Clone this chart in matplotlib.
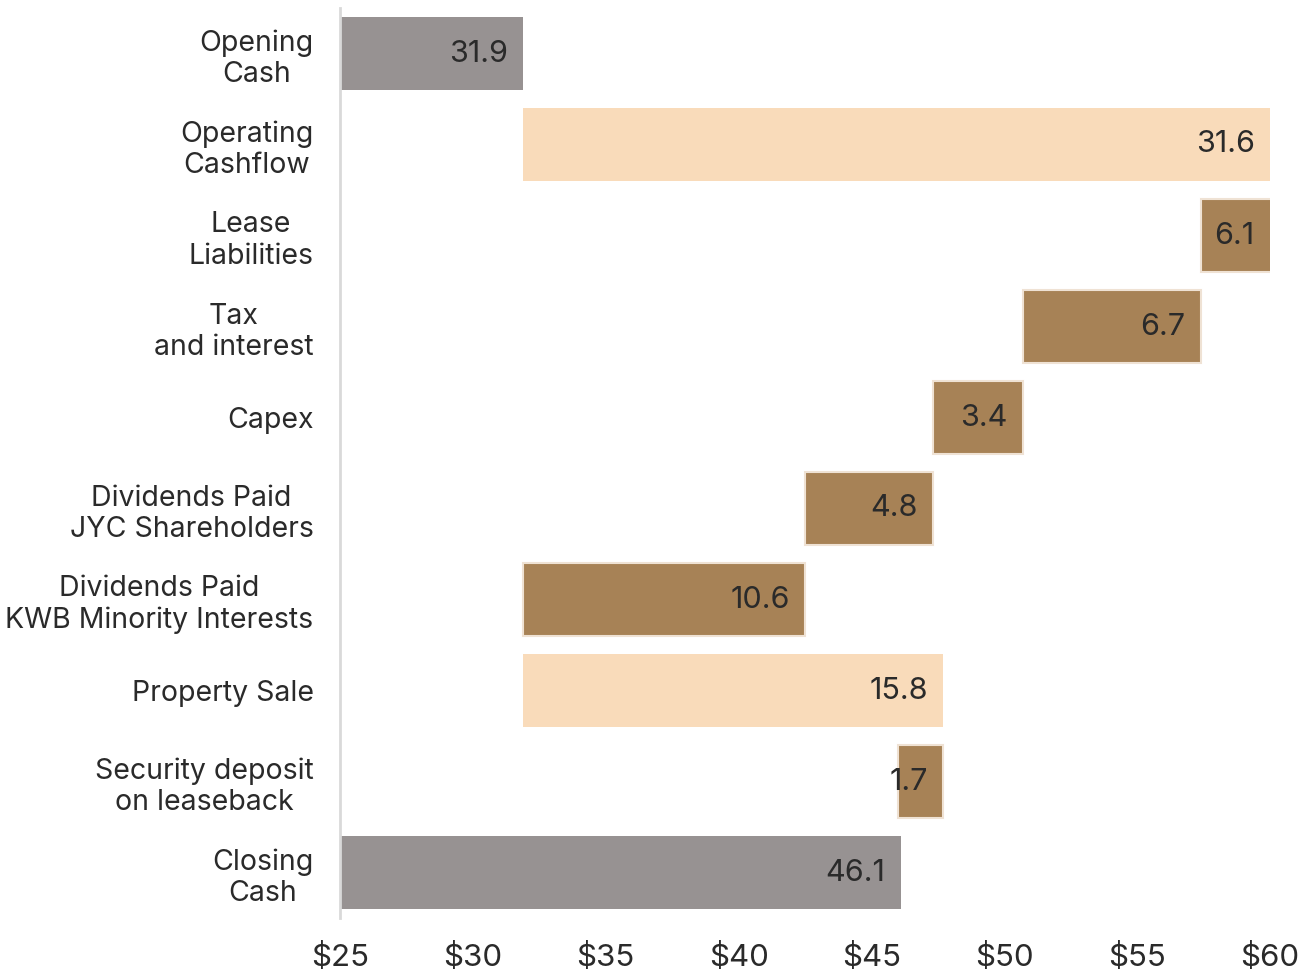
import matplotlib.pyplot as plt

# cash bridge, $m
labels = ['Opening\nCash', 'Operating\nCashflow', 'Lease\nLiabilities', 'Tax\nand interest',
          'Capex', 'Dividends Paid\nJYC Shareholders', 'Dividends Paid\nKWB Minority Interests',
          'Property Sale', 'Security deposit\non leaseback', 'Closing\nCash']
values = [31.9, 31.6, 6.1, 6.7, 3.4, 4.8, 10.6, 15.8, 1.7, 46.1]
kinds = ['total', 'in', 'out', 'out', 'out', 'out', 'out', 'in', 'out', 'total']

colors = {'total': '#979292', 'in': '#f9dbba', 'out': '#a78256'}
edges = {'total': 'none', 'in': 'none', 'out': '#efe2d4'}

x_min, x_max = 25, 60

plt.rcParams['font.family'] = ['Inter', 'DejaVu Sans']

fig = plt.figure(figsize=(13.04, 9.71), dpi=100)
ax = fig.add_axes([340 / 1304, 1 - 918 / 971, 930 / 1304, 910 / 971])

running = 0
for i, (v, k) in enumerate(zip(values, kinds)):
    if k == 'total':
        left, right = x_min, v
        running = v
    elif k == 'in':
        left, right = running, running + v
        running += v
    else:
        left, right = running - v, running
        running -= v
    ax.barh(i, right - left, left=left, height=0.8, color=colors[k],
            edgecolor=edges[k], linewidth=1.5)
    ax.annotate(f'{v:.1f}', xy=(min(right, x_max), i), xytext=(-11, 0),
                textcoords='offset points', ha='right', va='center',
                fontsize=22, color='#2a2a2a')

ax.set_xlim(x_min, x_max)
ax.set_ylim(len(values) - 0.5, -0.5)
ax.set_yticks(range(len(labels)))
ax.set_yticklabels(labels, fontsize=20.5, color='#2a2a2a',
                   multialignment='center', linespacing=1.22)
ax.set_xticks(range(25, 61, 5))
ax.set_xticklabels([f'${t}' for t in range(25, 61, 5)], fontsize=22.5, color='#2a2a2a')
ax.tick_params(axis='y', length=0, pad=19)
ax.tick_params(axis='x', length=0, pad=18)

for side in ['top', 'right', 'bottom']:
    ax.spines[side].set_visible(False)
ax.spines['left'].set_color('#d9d9d9')
ax.spines['left'].set_linewidth(2)

fig.savefig('out.png', dpi=100)
